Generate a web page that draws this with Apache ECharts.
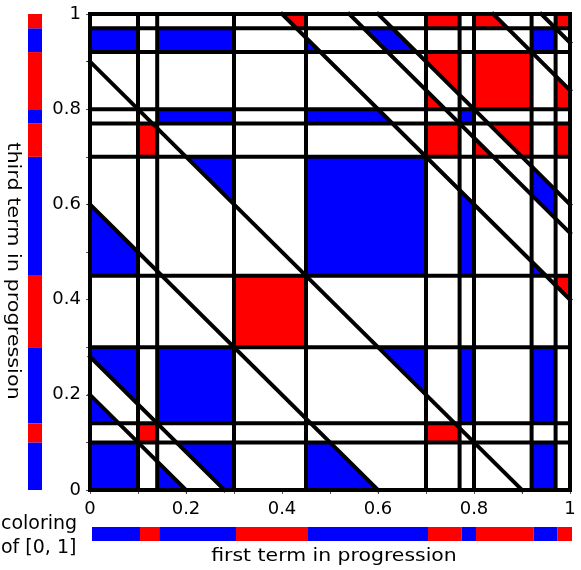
<!DOCTYPE html>
<html>
<head>
<meta charset="utf-8">
<script src="https://cdn.jsdelivr.net/npm/echarts@6/dist/echarts.min.js"></script>
<style>
html, body { margin: 0; padding: 0; background: #fff; }
#chart { width: 581px; height: 570px; }
</style>
</head>
<body>
<div id="chart"></div>
<script>
// breakpoints of the colouring of [0, 1] and the colour of each piece
const breaks = [0, 0.1, 0.14, 0.3, 0.45, 0.7, 0.77, 0.8, 0.92, 0.97, 1];
const pieceColors = ['blue', 'red', 'blue', 'red', 'blue', 'red', 'blue', 'red', 'blue', 'red'];
const tickLabels = ['0', '0.2', '0.4', '0.6', '0.8', '1'];

const palette = { blue: '#0000ff', red: '#ff0000' };
const font = 'DejaVu Sans';

// clip a polygon with the half plane a*x + b*y <= c
function clip(poly, a, b, c) {
  const out = [];
  for (let i = 0; i < poly.length; i++) {
    const p = poly[i], q = poly[(i + 1) % poly.length];
    const fp = a * p[0] + b * p[1] - c, fq = a * q[0] + b * q[1] - c;
    if (fp <= 0) out.push(p);
    if ((fp < 0 && fq > 0) || (fp > 0 && fq < 0)) {
      const t = fp / (fp - fq);
      out.push([p[0] + t * (q[0] - p[0]), p[1] + t * (q[1] - p[1])]);
    }
  }
  return out;
}
function area(poly) {
  let s = 0;
  for (let i = 0; i < poly.length; i++) {
    const p = poly[i], q = poly[(i + 1) % poly.length];
    s += p[0] * q[1] - q[0] * p[1];
  }
  return Math.abs(s) / 2;
}

// monochromatic progressions: first term x, third term y, middle (x+y)/2
const fills = [];
const n = pieceColors.length;
for (let i = 0; i < n; i++) {
  for (let j = 0; j < n; j++) {
    if (pieceColors[i] !== pieceColors[j]) continue;
    for (let k = 0; k < n; k++) {
      if (pieceColors[k] !== pieceColors[i]) continue;
      let poly = [[breaks[i], breaks[j]], [breaks[i + 1], breaks[j]], [breaks[i + 1], breaks[j + 1]], [breaks[i], breaks[j + 1]]];
      poly = clip(poly, -1, -1, -2 * breaks[k]);
      poly = clip(poly, 1, 1, 2 * breaks[k + 1]);
      if (poly.length > 2 && area(poly) > 1e-9) fills.push({ pts: poly, color: palette[pieceColors[i]] });
    }
  }
}

// grid lines: x = b, y = b and x + y = 2b
const segments = [];
breaks.forEach(function (b) {
  segments.push([b, 0, b, 1]);
  segments.push([0, b, 1, b]);
  if (b > 0 && b < 1) {
    const s = 2 * b;
    segments.push(s <= 1 ? [0, s, s, 0] : [s - 1, 1, 1, s - 1]);
  }
});

const chart = echarts.init(document.getElementById('chart'));

const hiddenAxis = (idx) => ({ gridIndex: idx, type: 'value', min: 0, max: 1, show: false });

chart.setOption({
  animation: false,
  grid: [
    { left: 90, top: 14, width: 480, height: 476 },
    { left: 92, top: 527, width: 480, height: 14 },
    { left: 28, top: 14, width: 14, height: 476 }
  ],
  xAxis: [
    {
      gridIndex: 0, type: 'value', min: 0, max: 1, interval: 0.1,
      axisLine: { show: false },
      splitLine: { show: false },
      axisTick: { length: 4, lineStyle: { color: '#555' } },
      axisLabel: {
        margin: 10, fontSize: 18, color: '#000', fontFamily: font,
        formatter: function (v) {
          const k = Math.round(v * 10);
          return k % 2 === 0 ? tickLabels[k / 2] : '';
        }
      }
    },
    hiddenAxis(1),
    hiddenAxis(2)
  ],
  yAxis: [
    {
      gridIndex: 0, type: 'value', min: 0, max: 1, interval: 0.1,
      axisLine: { show: false },
      splitLine: { show: false },
      axisTick: { length: 4, lineStyle: { color: '#555' } },
      axisLabel: {
        margin: 9, fontSize: 18, color: '#000', fontFamily: font,
        formatter: function (v) {
          const k = Math.round(v * 10);
          return k % 2 === 0 ? tickLabels[k / 2] : '';
        }
      }
    },
    hiddenAxis(1),
    hiddenAxis(2)
  ],
  graphic: [
    {
      type: 'text', x: 12, y: 271, rotation: -Math.PI / 2, scaleX: 1.22,
      style: { text: 'third term in progression', fontSize: 17, fontFamily: font, fill: '#000', align: 'center', verticalAlign: 'middle' }
    },
    {
      type: 'text', x: 334, y: 557, scaleX: 1.2,
      style: { text: 'first term in progression', fontSize: 17, fontFamily: font, fill: '#000', align: 'center', verticalAlign: 'middle' }
    },
    {
      type: 'text', x: 1, y: 524,
      style: { text: 'coloring', fontSize: 19, fontFamily: font, fill: '#000', align: 'left', verticalAlign: 'middle' }
    },
    {
      type: 'text', x: 1, y: 548,
      style: { text: 'of [0, 1]', fontSize: 19, fontFamily: font, fill: '#000', align: 'left', verticalAlign: 'middle' }
    }
  ],
  series: [
    {
      type: 'custom', xAxisIndex: 0, yAxisIndex: 0, z: 2,
      data: fills.map((f, i) => [f.pts[0][0], f.pts[0][1], i]),
      renderItem: function (params, api) {
        const f = fills[api.value(2)];
        return {
          type: 'polygon',
          shape: { points: f.pts.map(p => api.coord(p)) },
          style: { fill: f.color }
        };
      }
    },
    {
      type: 'custom', xAxisIndex: 0, yAxisIndex: 0, z: 3,
      data: segments,
      renderItem: function (params, api) {
        const a = api.coord([api.value(0), api.value(1)]);
        const b = api.coord([api.value(2), api.value(3)]);
        return {
          type: 'line',
          shape: { x1: a[0], y1: a[1], x2: b[0], y2: b[1] },
          style: { stroke: '#000', lineWidth: 4, lineCap: 'square' }
        };
      }
    },
    {
      // colour bar under the x axis
      type: 'custom', xAxisIndex: 1, yAxisIndex: 1,
      data: pieceColors.map((c, i) => [breaks[i], breaks[i + 1], i]),
      renderItem: function (params, api) {
        const p0 = api.coord([api.value(0), 1]);
        const p1 = api.coord([api.value(1), 0]);
        return {
          type: 'rect',
          shape: { x: p0[0], y: p0[1], width: p1[0] - p0[0], height: p1[1] - p0[1] },
          style: { fill: palette[pieceColors[api.value(2)]] }
        };
      }
    },
    {
      // colour bar beside the y axis
      type: 'custom', xAxisIndex: 2, yAxisIndex: 2,
      data: pieceColors.map((c, i) => [breaks[i], breaks[i + 1], i]),
      renderItem: function (params, api) {
        const p0 = api.coord([0, api.value(1)]);
        const p1 = api.coord([1, api.value(0)]);
        return {
          type: 'rect',
          shape: { x: p0[0], y: p0[1], width: p1[0] - p0[0], height: p1[1] - p0[1] },
          style: { fill: palette[pieceColors[api.value(2)]] }
        };
      }
    }
  ]
});
</script>
</body>
</html>
